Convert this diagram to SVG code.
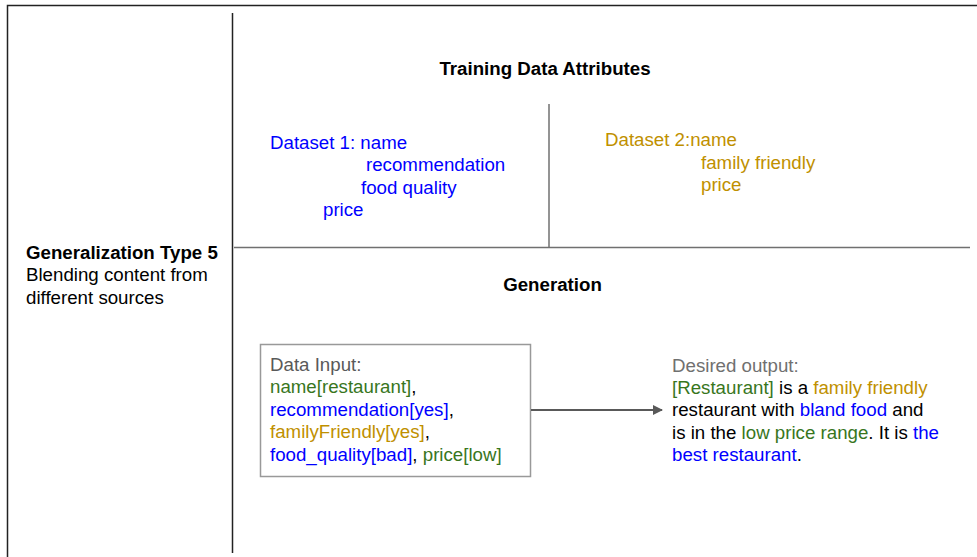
<svg xmlns="http://www.w3.org/2000/svg" width="977" height="557" viewBox="0 0 977 557">
  <style>
    text { font-family: "Liberation Sans", Arial, sans-serif; font-size: 18.7px; }
    .b { font-weight: bold; fill: #000; }
    .blue { fill: #0000ff; }
    .gold { fill: #bf9000; }
    .green { fill: #38761d; }
    .gray { fill: #595959; }
    .lgray { fill: #707070; }
    .blk { fill: #000; }
    .frame { stroke: #222; stroke-width: 1.5; fill: none; }
    .divider { stroke: #707070; stroke-width: 1.5; fill: none; }
  </style>
  <defs>
    <marker id="arrow" markerWidth="10" markerHeight="10" refX="9" refY="5" orient="auto" markerUnits="userSpaceOnUse">
      <path d="M0,0 L10,5 L0,10 Z" fill="#595959"/>
    </marker>
  </defs>
  <rect width="977" height="557" fill="#fff"/>

  <!-- outer frame and section dividers -->
  <g id="frame">
    <path class="frame" d="M7.5,557 V5.5 H977"/>
    <line class="frame" x1="232.5" y1="13" x2="232.5" y2="553"/>
    <line class="divider" x1="234" y1="247.5" x2="970" y2="247.5"/>
    <line class="divider" x1="549" y1="104" x2="549" y2="248"/>
  </g>

  <g id="type-label">
    <text x="26" y="259" class="b">Generalization Type 5</text>
    <text x="26" y="281" class="blk">Blending content from</text>
    <text x="26" y="304" class="blk">different sources</text>
  </g>

  <g id="training-title">
    <text x="545" y="75" class="b" text-anchor="middle">Training Data Attributes</text>
  </g>

  <g id="dataset1">
    <text x="270" y="149" class="blue">Dataset 1: name</text>
    <text x="366" y="171" class="blue">recommendation</text>
    <text x="361" y="194" class="blue">food quality</text>
    <text x="323" y="216" class="blue">price</text>
  </g>

  <g id="dataset2">
    <text x="605" y="146" class="gold">Dataset 2:name</text>
    <text x="701" y="169" class="gold">family friendly</text>
    <text x="701" y="191" class="gold">price</text>
  </g>

  <g id="generation-title">
    <text x="552.5" y="291" class="b" text-anchor="middle">Generation</text>
  </g>

  <g id="data-input">
    <rect x="260.5" y="344.5" width="270" height="132" fill="#fff" stroke="#999" stroke-width="1.5"/>
    <text x="270" y="371" class="gray">Data Input:</text>
    <text x="270" y="393"><tspan class="green">name[restaurant]</tspan><tspan class="blk">,</tspan></text>
    <text x="270" y="416"><tspan class="blue">recommendation[yes]</tspan><tspan class="blk">,</tspan></text>
    <text x="270" y="438"><tspan class="gold">familyFriendly[yes]</tspan><tspan class="blk">,</tspan></text>
    <text x="270" y="461"><tspan class="blue">food_quality[bad]</tspan><tspan class="blk">, </tspan><tspan class="green">price[low]</tspan></text>
  </g>

  <g id="connectors">
    <line x1="531" y1="410" x2="662" y2="410" stroke="#595959" stroke-width="2" marker-end="url(#arrow)"/>
  </g>

  <g id="desired-output">
    <text x="672" y="372" class="lgray">Desired output:</text>
    <text x="672" y="394"><tspan class="green">[Restaurant]</tspan><tspan class="blk"> is a </tspan><tspan class="gold">family friendly</tspan></text>
    <text x="672" y="416"><tspan class="blk">restaurant with </tspan><tspan class="blue">bland food</tspan><tspan class="blk"> and</tspan></text>
    <text x="672" y="439"><tspan class="blk">is in the </tspan><tspan class="green">low price range</tspan><tspan class="blk">. It is </tspan><tspan class="blue">the</tspan></text>
    <text x="672" y="461"><tspan class="blue">best restaurant</tspan><tspan class="blk">.</tspan></text>
  </g>
</svg>
